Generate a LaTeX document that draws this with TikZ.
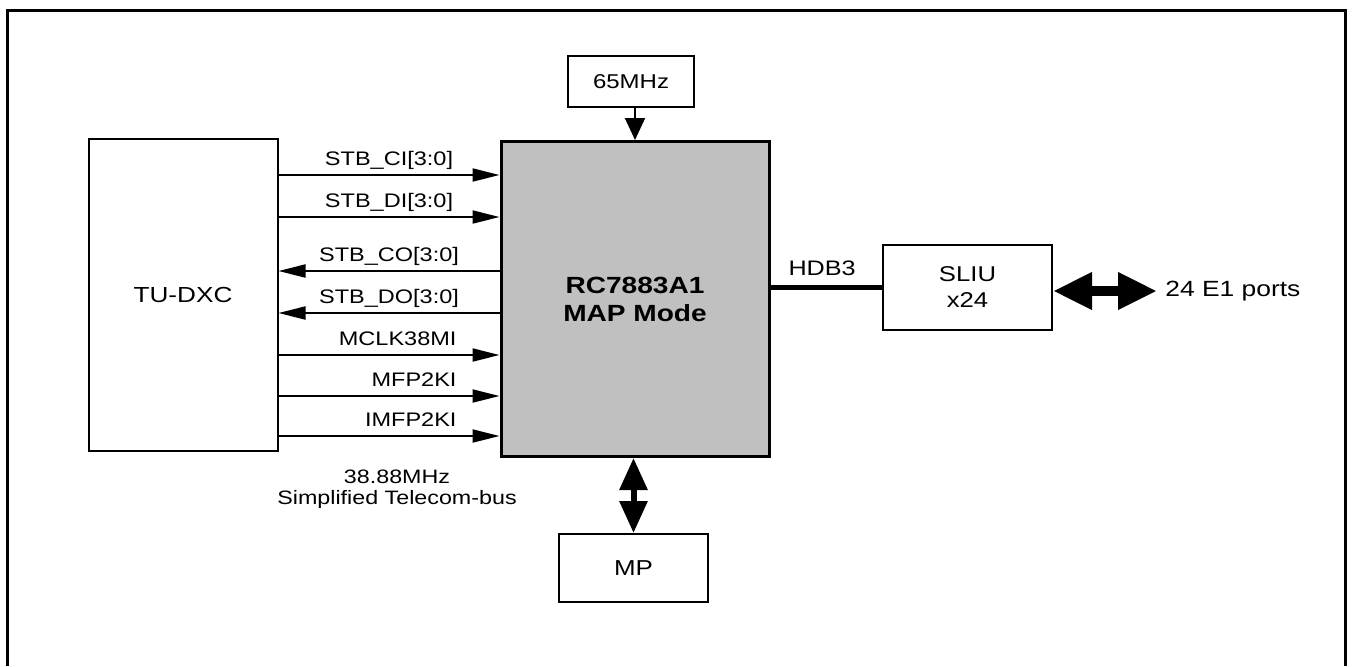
\documentclass[tikz,border=0pt]{standalone}
\usepackage{fontspec}
\setmainfont{Liberation Sans}[FakeStretch=1.2]
\usetikzlibrary{arrows.meta}

\tikzstyle{block}=[draw, line width=1pt, inner sep=0pt, align=center, font=\fontsize{10}{13}\selectfont]
\tikzstyle{chip}=[draw, line width=1.5pt, fill=chipgray, inner sep=0pt, align=center, font=\bfseries\fontsize{11.7}{14}\selectfont]
\tikzstyle{sig}=[line width=1pt, -{Triangle[length=13.5pt, width=6.5pt]}]
\tikzstyle{sig-label}=[inner sep=0pt, font=\fontsize{9.8}{11}\selectfont]
\tikzstyle{bus}=[line width=5.3pt, {Triangle[length=19.5pt, width=17.5pt]}-{Triangle[length=19.5pt, width=17.5pt]}]
\tikzstyle{cpu-bus}=[line width=3pt, {Triangle[length=16pt, width=13.5pt]}-{Triangle[length=16pt, width=13.5pt]}]
\definecolor{chipgray}{HTML}{c0c0c0}

\begin{document}
\begin{tikzpicture}[x=0.5pt, y=-0.5pt]
  \useasboundingbox (0,0) rectangle (1352,666);
  % outer frame, open at the bottom
  \draw[line width=1.5pt] (7,666) -- (7,10) -- (1345,10) -- (1345,666);

  \node (dxc) at (183, 295)
        [block, minimum width=94.5pt, minimum height=156pt, font=\fontsize{10.9}{13}\selectfont] {TU-DXC};
  \node (map) at (635, 299)
        [chip, minimum width=134pt, minimum height=157.5pt] {RC7883A1\\MAP Mode};
  \node (clk) at (631, 81.5)
        [block, minimum width=63pt, minimum height=25.5pt] {65MHz};
  \node (sliu) at (967.5, 287.5)
        [block, minimum width=84.5pt, minimum height=42.5pt, font=\fontsize{10.7}{13}\selectfont] {SLIU\\x24};
  \node (mp) at (633.5, 568)
        [block, minimum width=74.5pt, minimum height=34pt, font=\fontsize{10.8}{13}\selectfont] {MP};
  \node (ports) at (1157, 291)
        [anchor=west, inner sep=4pt, font=\fontsize{11}{13}\selectfont] {24 E1 ports};
  \node (tbus) at (397, 489.5)
        [align=center, inner sep=0pt, font=\fontsize{9.7}{10.5}\selectfont] {38.88MHz\\Simplified Telecom-bus};

  % telecom-bus signals
  \foreach \y/\lab in {175/STB\_CI[3:0], 217/STB\_DI[3:0]}
    \draw[sig] (dxc.east |- 0,\y) -- node[sig-label, midway, anchor=base, yshift=5pt] {\lab} (map.west |- 0,\y);
  \foreach \y/\lab in {271/STB\_CO[3:0], 313/STB\_DO[3:0]}
    \draw[sig] (map.west |- 0,\y) -- node[sig-label, midway, anchor=base, yshift=5pt] {\lab} (dxc.east |- 0,\y);
  \foreach \y/\lab in {355/MCLK38MI, 396/MFP2KI, 436/IMFP2KI}
    \draw[sig] (dxc.east |- 0,\y) -- node[sig-label, pos=0.81, anchor=base east, yshift=5pt] {\lab} (map.west |- 0,\y);

  \draw[line width=1pt, -{Triangle[length=11pt, width=10pt]}] (clk.south -| map.north) -- (map.north);
  \draw[line width=2.5pt] (map.east |- sliu.west) -- node[sig-label, pos=0, anchor=base west, xshift=7.75pt, yshift=6pt, font=\fontsize{10.5}{12}\selectfont] {HDB3} (sliu.west);
  \draw[bus] (sliu.east |- ports.west) -- (ports.west);
  \draw[cpu-bus] (map.south -| mp.north) -- (mp.north);
\end{tikzpicture}
\end{document}
